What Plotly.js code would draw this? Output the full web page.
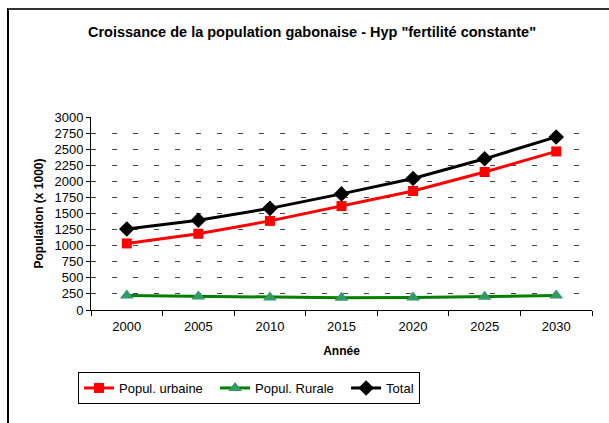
<!DOCTYPE html>
<html>
<head>
<meta charset="utf-8">
<script src="https://cdn.plot.ly/plotly-3.0.1.min.js"></script>
<style>
    body { margin: 0; background: #fff; }
    #chart { width: 609px; height: 423px; position: relative; }
    #frame {
        position: absolute; left: 7px; top: 8px; width: 602px; height: 415px;
        border-top: 2px solid #333; border-left: 2px solid #000;
        pointer-events: none;
    }
</style>
</head>
<body>
<div id="chart"></div>
<div id="frame"></div>
<script>
let years = ["2000", "2005", "2010", "2015", "2020", "2025", "2030"];
let urbaine = [1035, 1185, 1385, 1615, 1850, 2145, 2465];
let rurale = [225, 210, 195, 190, 195, 205, 225];
let total = [1260, 1395, 1580, 1805, 2045, 2350, 2690];
let yTicks = [0, 250, 500, 750, 1000, 1250, 1500, 1750, 2000, 2250, 2500, 2750, 3000];

let font = "Liberation Sans, Arial, sans-serif";
// spaces to spread the legend entries like the original
let pad = "\u00a0".repeat(2);

let urbTrace = {
    x: years,
    y: urbaine,
    type: "scatter",
    mode: "lines+markers",
    name: "Popul. urbaine" + pad,
    line: {color: "#ff0000", width: 3},
    marker: {symbol: "square", size: 10, color: "#ff0000"}
}

let rurTrace = {
    x: years,
    y: rurale,
    type: "scatter",
    mode: "lines+markers",
    name: "Popul. Rurale" + pad,
    line: {color: "#008000", width: 3},
    marker: {symbol: "triangle-up", size: 12, color: "#339966"}
}

let totTrace = {
    x: years,
    y: total,
    type: "scatter",
    mode: "lines+markers",
    name: "Total",
    line: {color: "#000000", width: 3},
    marker: {symbol: "diamond", size: 12, color: "#000000"}
}

let layout = {
    width: 609,
    height: 423,
    margin: {l: 91, r: 17, t: 117, b: 113},
    paper_bgcolor: "#fff",
    plot_bgcolor: "#fff",
    font: {family: font, size: 13, color: "#000"},
    title: {
        text: "<b>Croissance de la population gabonaise - Hyp \"fertilité constante\"</b>",
        font: {family: font, size: 14.5, color: "#000"},
        xref: "container",
        x: 312 / 609,
        xanchor: "center",
        yref: "container",
        y: 1 - 32 / 423,
        yanchor: "middle"
    },
    xaxis: {
        type: "category",
        tickson: "boundaries",
        ticks: "outside",
        ticklen: 5,
        tickcolor: "#000",
        showline: true,
        linecolor: "#000",
        linewidth: 1,
        showgrid: false,
        zeroline: false,
        range: [-0.5, 6.5],
        tickfont: {size: 13},
        ticklabelstandoff: 4,
        title: {text: "<b>Année</b>", font: {size: 12}, standoff: 14}
    },
    yaxis: {
        range: [0, 3000],
        tickvals: yTicks,
        ticktext: yTicks.map(String),
        ticks: "outside",
        ticklen: 4,
        tickcolor: "#000",
        showline: true,
        linecolor: "#000",
        linewidth: 1,
        showgrid: true,
        gridcolor: "#444",
        gridwidth: 1,
        griddash: "5px,16px",
        zeroline: false,
        tickfont: {size: 13},
        title: {text: "<b>Population (x 1000)</b>", font: {size: 12}, standoff: 8}
    },
    legend: {
        orientation: "h",
        xref: "container",
        yref: "container",
        x: 78 / 609,
        y: 1 - 372 / 423,
        xanchor: "left",
        yanchor: "top",
        bordercolor: "#000",
        borderwidth: 1,
        bgcolor: "#fff",
        font: {size: 13},
        itemwidth: 30
    },
    showlegend: true
}

Plotly.newPlot("chart", [urbTrace, rurTrace, totTrace], layout, {displayModeBar: false, staticPlot: true});
</script>
</body>
</html>
